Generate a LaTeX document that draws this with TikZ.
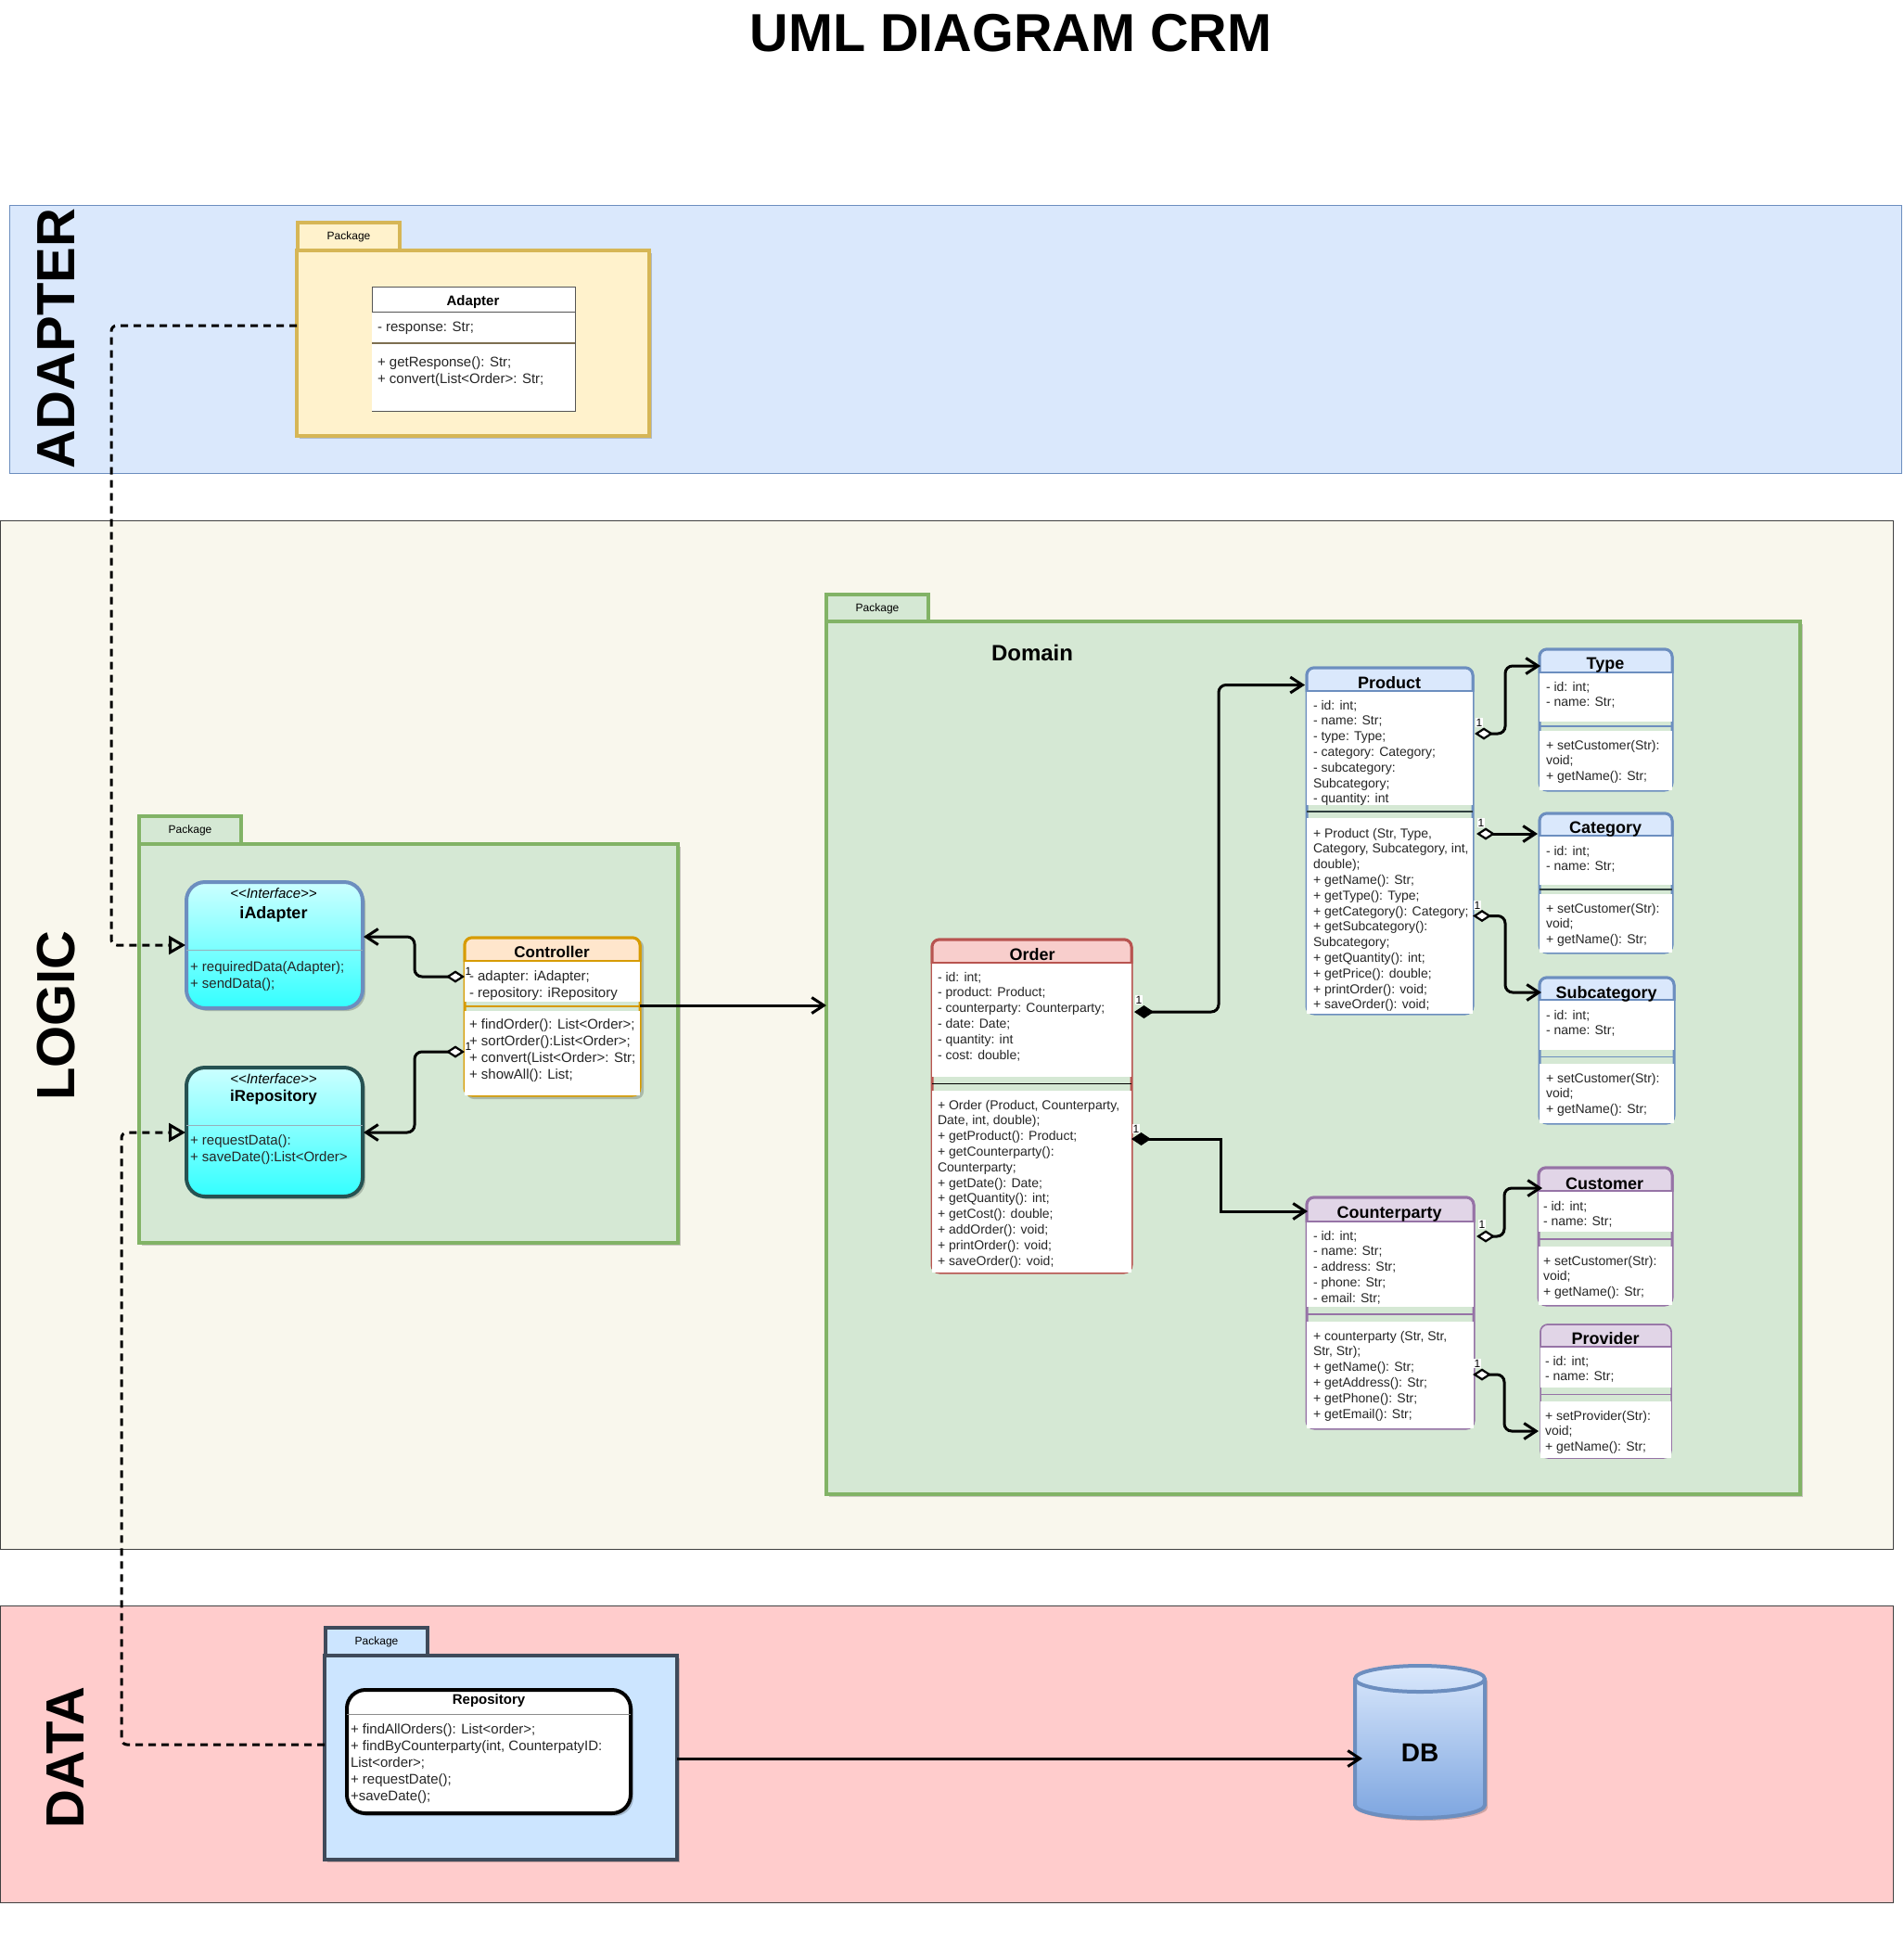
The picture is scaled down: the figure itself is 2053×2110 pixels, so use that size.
\documentclass[tikz,border=0pt]{standalone}
\usepackage{fontspec}
\setmainfont{Liberation Sans}
\usepackage{tikz}
\usetikzlibrary{ arrows.meta, fit, positioning, shadows }

\definecolor{domain}{HTML}{D5E8D4}
\definecolor{domainline}{HTML}{82B366}
\definecolor{adapterfill}{HTML}{FFF2CC}
\definecolor{adapterpen}{HTML}{D6B656}
\definecolor{repofill}{HTML}{CCE5FF}
\definecolor{repopen}{HTML}{3F4A5A}
\definecolor{logicfill}{HTML}{F9F7ED}
\definecolor{datafill}{HTML}{FFCCCC}
\definecolor{dbbottom}{HTML}{7EA6E0}
\definecolor{orderline}{HTML}{B85450}   \definecolor{orderhead}{HTML}{F8CECC}   \colorlet{ordersep}{black}
\definecolor{productline}{HTML}{6C8EBF} \definecolor{producthead}{HTML}{DAE8FC} \definecolor{productsep}{HTML}{2F3F3F}
\colorlet{typeline}{productline}        \colorlet{typehead}{producthead}        \colorlet{typesep}{productline}
\definecolor{counterline}{HTML}{9673A6} \definecolor{counterhead}{HTML}{E1D5E7} \colorlet{countersep}{counterline}
\colorlet{providerline}{counterline}    \colorlet{providerhead}{counterhead}    \colorlet{providersep}{counterline}
\definecolor{controllerline}{HTML}{D79B00} \definecolor{controllerhead}{HTML}{FFE6CC} \colorlet{controllersep}{controllerline}
\definecolor{adapterline}{HTML}{555555} \colorlet{adapterhead}{white}           \definecolor{adaptersep}{HTML}{7D6E50}

\tikzset{
  >={Straight Barb[length=13pt,width=17pt]}, % open arrow heads
  every node/.style={inner sep=1pt, outer sep=0pt},
  lane/.style={draw, anchor=north west, line width=1pt},
  lanetitle/.style={font=\fontsize{58}{58}\selectfont\bfseries, rotate=90},
  pkgtab/.style={draw, anchor=north west, minimum height=30pt, line width=3.5pt, font=\fontsize{12}{14}\selectfont},
  pkgbody/.style={draw, anchor=north west, line width=3.5pt, softshade},
  softshade/.style={drop shadow={shadow xshift=3pt, shadow yshift=-3pt, fill=black, opacity=.2}},
  yellowpkg/.style={draw=adapterpen, fill=adapterfill},
  greenpkg/.style={draw=domainline, fill=domain},
  bluepkg/.style={draw=repopen, fill=repofill},
  orderclass/.style={draw=orderline, line width=3pt},
  productclass/.style={draw=productline, line width=3pt},
  typeclass/.style={draw=typeline, line width=3pt},
  counterclass/.style={draw=counterline, line width=3pt},
  providerclass/.style={draw=providerline, line width=1.5pt},
  controllerclass/.style={draw=controllerline, line width=3pt},
  adapterclass/.style={draw=adapterline, line width=1pt, sharp corners},
  classtitle/.style={font=\fontsize{18}{20}\selectfont\bfseries, inner sep=0pt, yshift=-1pt},
  members/.style={font=\fontsize{14}{16.8}\selectfont, align=left, anchor=north west, inner sep=0pt, yshift=-2pt, text=black!85, execute at begin node=\strut},
  bigmembers/.style={members, yshift=.5pt, font=\fontsize{15}{18}\selectfont},
  interface/.style={draw, anchor=north west, line width=4pt, rounded corners=20pt, top color=cyan!20, bottom color=cyan!80, minimum width=190pt, softshade},
  card/.style={font=\fontsize{12}{12}\selectfont, fill=white, inner sep=.5pt},
  link/.style={line width=3pt, rounded corners=8pt},
  aggregation/.style={link, {Diamond[length=20pt,width=13pt,fill=white,line width=2.2pt]}->},
  composition/.style={link, {Diamond[length=21pt,width=14pt,line width=1pt]}->},
  implements/.style={line width=3pt, rounded corners=6pt, dash pattern=on 8pt off 6pt, -{Triangle[open,length=18pt,width=20pt]}},
  dbrim/.style={x radius=70pt, y radius=14pt},
}

% name, kind, x1, y1, x2, y2, head bottom, band top, band bottom
\newcommand{\umlclass}[9]{%
  \node[rounded corners=8pt, #2class, fill=domain, inner sep=0pt, fit={(#3+1,#4+1)(#5-1,#6-1)}] (#1) {};
  \begin{scope}
    \clip (#3-4,#4-4) rectangle (#5+4,#7);
    \draw[rounded corners=8pt, #2class, fill=#2head] (#3+1,#4+1) rectangle (#5-1,#6-1);
  \end{scope}
  \draw[#2class] (#3+1,#7) -- (#5-1,#7);
  \fill[white] (#3+1,#7+1) rectangle (#5-1,#8);
  \fill[white] (#3+1,#9) rectangle (#5-1,#6-1.5);
  \draw[draw=#2sep, line width=1.3pt] (#3+1,{(#8+#9)/2}) -- (#5-1,{(#8+#9)/2});
}

\begin{document}
\begin{tikzpicture}[x=1pt,y=-1pt]
  \path[use as bounding box, fill=white] (0,0) rectangle (2053,2110);

  \node[font=\fontsize{57.6}{58}\selectfont\bfseries] (title) at (1090,36) {UML DIAGRAM CRM};

  % layers
  \node[lane, draw=productline, fill=producthead, minimum width=2040pt, minimum height=289pt] (adapterlane) at (10.5,221) {};
  \node[lane, draw=black!75, fill=logicfill, minimum width=2041pt, minimum height=1109pt] (logiclane) at (0,561) {};
  \node[lane, draw=black!75, fill=datafill, minimum width=2041pt, minimum height=320pt] (datalane) at (0,1731) {};
  \node[lanetitle] (adaptertitle) at (61,365) {ADAPTER};
  \node[lanetitle] (logictitle) at (61,1095) {LOGIC};
  \node[lanetitle] (datatitle) at (71,1895) {DATA};

  % packages
  \node[pkgtab, yellowpkg, minimum width=110pt] (adaptertab) at (321,240) {Package};
  \node[pkgbody, yellowpkg, minimum width=380pt, minimum height=200pt] (adapterpkg) at (320,270) {};
  \node[pkgtab, greenpkg, minimum width=110pt] (logictab) at (150,880) {Package};
  \node[pkgbody, greenpkg, minimum width=581pt, minimum height=430pt] (logicpkg) at (150,910) {};
  \node[pkgtab, greenpkg, minimum width=110pt] (domaintab) at (891,641) {Package};
  \node[pkgbody, greenpkg, minimum width=1050pt, minimum height=941pt] (domainpkg) at (891,670) {};
  \node[font=\fontsize{24}{26}\selectfont\bfseries] (domaintitle) at (1113,704) {Domain};
  \node[pkgtab, bluepkg, minimum width=110pt] (repotab) at (351,1755) {Package};
  \node[pkgbody, bluepkg, minimum width=380pt, minimum height=220pt] (repopkg) at (350,1785) {};

  % adapter
  \umlclass{adapter}{adapter}{400}{308}{621}{444}{336}{370}{370}
  \node[classtitle, font=\fontsize{15}{17}\selectfont\bfseries] (adaptername) at (510,325) {Adapter};
  \node[bigmembers] (adapterattrs) at (407,343) {- response: Str;};
  \node[bigmembers] (adaptermeths) at (407,383) {+ getResponse(): Str;\\+ convert(List<Order>: Str;};

  % interfaces
  \node[interface, draw=productline, minimum height=136pt] (iadapter) at (201,951) {};
  \draw[cyan!40!black!50, line width=.8pt] (iadapter.west |- 0,1024) -- (iadapter.east |- 0,1024);
  \node[font=\fontsize{15}{17}\selectfont\itshape] (iadapterkind) at (295,963) {<{}<Interface>{}>};
  \node[classtitle] (iadaptername) at (295,985) {iAdapter};
  \node[bigmembers] (iadaptermeths) at (205,1035) {+ requiredData(Adapter);\\+ sendData();};

  \node[interface, draw=black!60!teal!85, minimum height=139pt] (irepository) at (201,1151) {};
  \draw[cyan!40!black!50, line width=.8pt] (irepository.west |- 0,1213) -- (irepository.east |- 0,1213);
  \node[font=\fontsize{15}{17}\selectfont\itshape] (irepositorykind) at (295,1163) {<{}<Interface>{}>};
  \node[classtitle, font=\fontsize{17}{19}\selectfont\bfseries] (irepositoryname) at (295,1182) {iRepository};
  \node[bigmembers] (irepositorymeths) at (205,1222) {+ requestData():\\+ saveDate():List<Order>};

  % controller
  \fill[black, opacity=.2, rounded corners=8pt] (503,1013) rectangle (694,1185);
  \umlclass{controller}{controller}{500}{1010}{691}{1182}{1036}{1080}{1090}
  \node[classtitle, font=\fontsize{17}{19}\selectfont\bfseries] (controllername) at (595,1025) {Controller};
  \node[bigmembers] (controllerattrs) at (506,1045) {- adapter: iAdapter;\\- repository: iRepository};
  \node[bigmembers] (controllermeths) at (506,1097) {+ findOrder(): List<Order>;\\+ sortOrder():List<Order>;\\+ convert(List<Order>: Str;\\+ showAll(): List;};

  % domain
  \umlclass{order}{order}{1004}{1012}{1221}{1373}{1038}{1161}{1176}
  \node[classtitle] (ordername) at (1113,1028) {Order};
  \node[members] (orderattrs) at (1011,1046) {- id: int;\\- product: Product;\\- counterparty: Counterparty;\\- date: Date;\\- quantity: int\\- cost: double;};
  \node[members] (ordermeths) at (1011,1184) {+ Order (Product, Counterparty,\\Date, int, double);\\+ getProduct(): Product;\\+ getCounterparty():\\Counterparty;\\+ getDate(): Date;\\+ getQuantity(): int;\\+ getCost(): double;\\+ addOrder(): void;\\+ printOrder(): void;\\+ saveOrder(): void;};

  \umlclass{product}{product}{1408}{719}{1589}{1094}{745}{868}{882}
  \node[classtitle] (productname) at (1498,735) {Product};
  \node[members] (productattrs) at (1416,753) {- id: int;\\- name: Str;\\- type: Type;\\- category: Category;\\- subcategory:\\Subcategory;\\- quantity: int};
  \node[members] (productmeths) at (1416,891) {+ Product (Str, Type,\\Category, Subcategory, int,\\double);\\+ getName(): Str;\\+ getType(): Type;\\+ getCategory(): Category;\\+ getSubcategory():\\Subcategory;\\+ getQuantity(): int;\\+ getPrice(): double;\\+ printOrder(): void;\\+ saveOrder(): void;};

  \umlclass{type}{type}{1659}{699}{1804}{853}{725}{778}{788}
  \node[classtitle] (typename) at (1731,716) {Type};
  \node[members] (typeattrs) at (1667,733) {- id: int;\\- name: Str;};
  \node[members] (typemeths) at (1667,796) {+ setCustomer(Str):\\void;\\+ getName(): Str;};

  \umlclass{category}{product}{1659}{876}{1804}{1028}{901}{954}{964}
  \node[classtitle] (categoryname) at (1731,893) {Category};
  \node[members] (categoryattrs) at (1667,910) {- id: int;\\- name: Str;};
  \node[members] (categorymeths) at (1667,972) {+ setCustomer(Str):\\void;\\+ getName(): Str;};

  \umlclass{subcategory}{type}{1659}{1053}{1806}{1212}{1078}{1132}{1147}
  \node[classtitle] (subcategoryname) at (1732,1070.5) {Subcategory};
  \node[members] (subcategoryattrs) at (1667,1087) {- id: int;\\- name: Str;};
  \node[members] (subcategorymeths) at (1667,1155) {+ setCustomer(Str):\\void;\\+ getName(): Str;};

  \umlclass{counterparty}{counter}{1408}{1290}{1590}{1541}{1317}{1409}{1425}
  \node[classtitle] (counterpartyname) at (1498,1308) {Counterparty};
  \node[members] (counterpartyattrs) at (1416,1325) {- id: int;\\- name: Str;\\- address: Str;\\- phone: Str;\\- email: Str;};
  \node[members] (counterpartymeths) at (1416,1433) {+ counterparty (Str, Str,\\Str, Str);\\+ getName(): Str;\\+ getAddress(): Str;\\+ getPhone(): Str;\\+ getEmail(): Str;};

  \umlclass{customer}{counter}{1658}{1258}{1804}{1408}{1284}{1328}{1344}
  \node[classtitle] (customername) at (1730,1275) {Customer};
  \node[members] (customerattrs) at (1664,1293) {- id: int;\\- name: Str;};
  \node[members] (customermeths) at (1664,1352) {+ setCustomer(Str):\\void;\\+ getName(): Str;};

  \umlclass{provider}{provider}{1660}{1427}{1803}{1573}{1452}{1496}{1511}
  \node[classtitle] (providername) at (1731,1442) {Provider};
  \node[members] (providerattrs) at (1666,1460) {- id: int;\\- name: Str;};
  \node[members] (providermeths) at (1666,1519) {+ setProvider(Str):\\void;\\+ getName(): Str;};

  % repository and database
  \node[draw=black, fill=white, anchor=north west, line width=4pt, rounded corners=20pt, minimum width=306pt, minimum height=133pt, softshade] (repository) at (374,1822) {};
  \draw[black!45, line width=1pt] (repository.west |- 0,1848) -- (repository.east |- 0,1848);
  \node[classtitle, font=\fontsize{15}{17}\selectfont\bfseries] (repositoryname) at (527,1833) {Repository};
  \node[bigmembers] (repositorymeths) at (378,1857) {+ findAllOrders(): List<order>;\\+ findByCounterparty(int, CounterpatyID:\\List<order>;\\+ requestDate();\\+saveDate();};

  \draw[draw=productline, line width=4pt, top color=producthead, bottom color=dbbottom, softshade] (1461,1810) -- (1461,1946) arc[start angle=180, end angle=360, dbrim] -- (1601,1810) arc[start angle=0, end angle=180, dbrim] -- cycle;
  \draw[draw=productline, line width=4pt] (1461,1810) arc[start angle=180, end angle=360, dbrim];
  \node[inner sep=0pt, fit={(1461,1796)(1601,1960)}] (db) {};
  \node[font=\fontsize{28}{30}\selectfont\bfseries] (dbname) at (1531,1890) {DB};

  % connectors
  \draw[implements] ([shift={(0,81)}]adapterpkg.north west) -- ++(-200,0) |- ([shift={(-1,68)}]iadapter.north west);
  \draw[implements] ([shift={(0,96)}]repopkg.north west) -- ++(-219,0) |- ([shift={(-1,70)}]irepository.north west);
  \draw[link, ->] ([shift={(0,111)}]repopkg.north east) -- ([shift={(8,18)}]db.west);
  \draw[link, ->] ([shift={(0,73)}]controller.north east) -- ([shift={(0,414)}]domainpkg.north west);
  \draw[aggregation] ([shift={(0,42)}]controller.north west) -- ++(-54,0) |- ([shift={(1,59)}]iadapter.north east);
  \draw[aggregation] ([shift={(0,123)}]controller.north west) -- ++(-54,0) |- ([shift={(1,70)}]irepository.north east);
  \draw[composition] ([shift={(3,78)}]order.north east) -- ++(91,0) |- ([shift={(-2,18.5)}]product.north west);
  \draw[composition, sharp corners] ([shift={(0,215)}]order.north east) -- ++(96,0) |- ([shift={(1,15)}]counterparty.north west);
  \draw[aggregation] ([shift={(2,71)}]product.north east) -- ++(33,0) |- ([shift={(1,18)}]type.north west);
  \draw[aggregation] ([shift={(4,179)}]product.north east) -- ([shift={(-2,22)}]category.north west);
  \draw[aggregation] ([shift={(0,267.5)}]product.north east) -- ++(35,0) |- ([shift={(2,16)}]subcategory.north west);
  \draw[aggregation] ([shift={(3,42)}]counterparty.north east) -- ++(30,0) |- ([shift={(4,22)}]customer.north west);
  \draw[aggregation] ([shift={(-1,191)}]counterparty.north east) -- ++(34,0) |- ([shift={(-2,115)}]provider.north west);

  \node[card] (card1) at (505,1047) {1};
  \node[card] (card2) at (505,1128) {1};
  \node[card] (card3) at (1228,1078) {1};
  \node[card] (card4) at (1225,1217) {1};
  \node[card] (card5) at (1595,779) {1};
  \node[card] (card6) at (1597,887) {1};
  \node[card] (card7) at (1593,976) {1};
  \node[card] (card8) at (1598,1320) {1};
  \node[card] (card9) at (1593,1470) {1};
\end{tikzpicture}
\end{document}
